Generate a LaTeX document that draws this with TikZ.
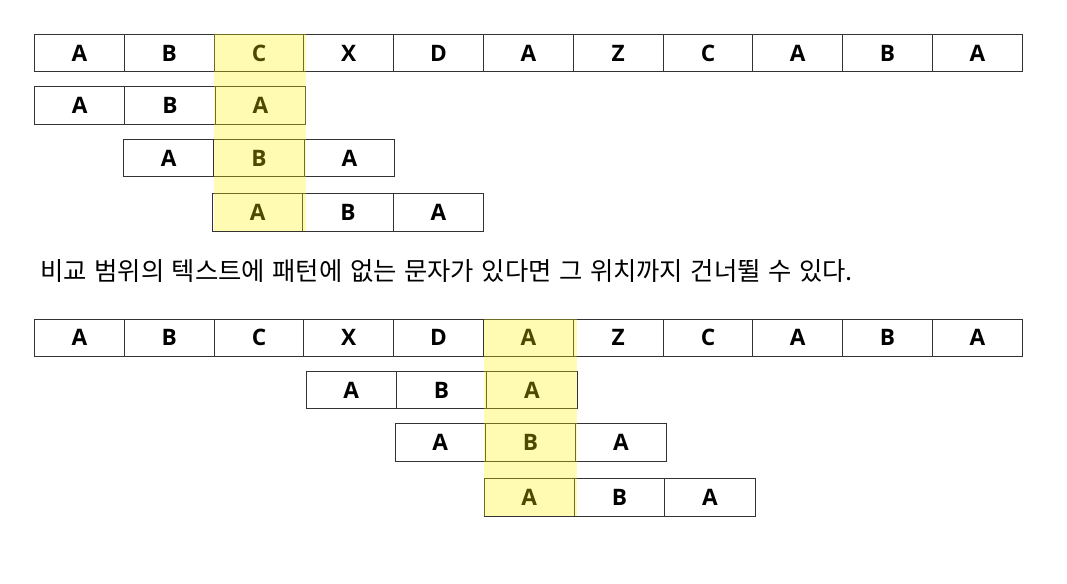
\documentclass[tikz,border=0pt]{standalone}
\usepackage{fontspec}
\setmainfont{Open Sans}
\newfontfamily\kr{Noto Sans CJK KR}
\begin{document}
\begin{tikzpicture}[x=0.75pt,y=-0.75pt,
  tcell/.style={draw=black!80,line width=0.75pt,minimum width=67.35pt,minimum height=27.75pt,inner sep=0pt,font=\fontsize{17}{20}\selectfont\bfseries},
  pcell/.style={tcell,minimum width=67.8pt,minimum height=27.9pt},
  hl/.style={fill=yellow,fill opacity=0.3,draw=none}]
\useasboundingbox (0,0) rectangle (1067,583);
% upper part
\foreach \c [count=\i from 0] in {A,B,C,X,D,A,Z,C,A,B,A}
  \node[tcell] (ua\i) at ({34.5+89.8*(\i+0.5)},53) {\c};
\foreach \c [count=\i from 0] in {A,B,A}{
  \node[pcell] (ub\i) at ({34.5+90.4*(\i+0.5)},105.5) {\c};
  \node[pcell] (uc\i) at ({123.5+90.4*(\i+0.5)},158) {\c};
  \node[pcell] (ud\i) at ({212.5+90.4*(\i+0.5)},212.5) {\c};
}
\fill[hl] (213.5,34) rectangle (305.5,231);
% caption
\node[anchor=base west,inner sep=0pt,font=\kr\fontsize{19}{23}\selectfont] (cap) at (40,280) {\spaceskip=\dimexpr\fontdimen2\font+1.4pt\relax 비교 범위의 텍스트에 패턴에 없는 문자가 있다면 그 위치까지 건너뛸 수 있다.};
% lower part
\foreach \c [count=\i from 0] in {A,B,C,X,D,A,Z,C,A,B,A}
  \node[tcell] (la\i) at ({34.5+89.8*(\i+0.5)},337.5) {\c};
\foreach \c [count=\i from 0] in {A,B,A}{
  \node[pcell] (lb\i) at ({306+90.4*(\i+0.5)},390) {\c};
  \node[pcell] (lc\i) at ({395+90.4*(\i+0.5)},442.5) {\c};
  \node[pcell] (ld\i) at ({484+90.4*(\i+0.5)},497.5) {\c};
}
\fill[hl] (484,319) rectangle (577,516);
\end{tikzpicture}
\end{document}
